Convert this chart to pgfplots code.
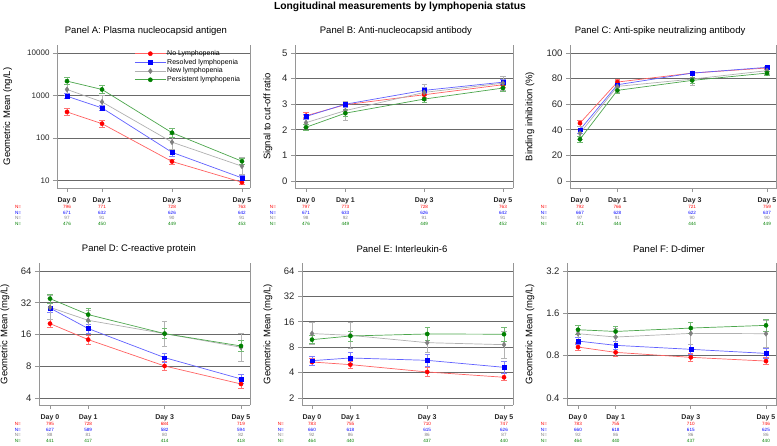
\documentclass[border=0pt]{standalone}
\usepackage{fontspec}
\setmainfont{Liberation Sans}
\usepackage{pgfplots}
\pgfplotsset{compat=1.18}
\definecolor{cR}{RGB}{255,0,0}
\definecolor{cB}{RGB}{0,0,255}
\definecolor{cG}{RGB}{128,128,128}
\definecolor{cN}{RGB}{0,128,0}
\colorlet{lR}{cR!62!white}
\colorlet{lB}{cB!62!white}
\colorlet{lG}{cG!62!white}
\colorlet{lN}{cN!70!white}
\colorlet{eR}{cR!55!white}
\colorlet{eB}{cB!50!white}
\colorlet{eG}{cG!60!white}
\colorlet{eN}{cN!55!white}
\definecolor{gridc}{RGB}{105,105,105}
\definecolor{axc}{RGB}{150,150,150}
\tikzset{nlab/.style={font=\fontsize{4.6}{5}\selectfont, inner sep=0pt, anchor=center}}
\newcommand{\Nday}[5]{%
 \node[nlab,text=cR,yshift=-18.9pt] at ({axis cs:#1,1}|-{rel axis cs:0,0}) {#2};
 \node[nlab,text=cB,yshift=-24.5pt] at ({axis cs:#1,1}|-{rel axis cs:0,0}) {#3};
 \node[nlab,text=cG,yshift=-30.2pt] at ({axis cs:#1,1}|-{rel axis cs:0,0}) {#4};
 \node[nlab,text=cN,yshift=-35.9pt] at ({axis cs:#1,1}|-{rel axis cs:0,0}) {#5};
}
\newcommand{\Nlab}[1]{%
 \node[nlab,text=cR,yshift=-18.9pt] at (rel axis cs:#1,0) {N=};
 \node[nlab,text=cB,yshift=-24.5pt] at (rel axis cs:#1,0) {N=};
 \node[nlab,text=cG,yshift=-30.2pt] at (rel axis cs:#1,0) {N=};
 \node[nlab,text=cN,yshift=-35.9pt] at (rel axis cs:#1,0) {N=};
}
\newcommand{\RightEdge}{\draw[axc, line width=0.9pt] (rel axis cs:1,0) -- (rel axis cs:1,1);}
\pgfplotsset{
 panel/.style={scale only axis, clip=false,
  axis x line*=bottom, axis y line*=left,
  axis line style={axc, line width=0.9pt},
  tick align=outside, major tick length=4pt,
  tick style={axc, line width=0.8pt},
  xminorticks=false, yminorticks=false,
  xtick={0,1,3,5}, xticklabels={Day 0,Day 1,Day 3,Day 5},
  x tick label style={font=\bfseries\fontsize{7}{8}\selectfont, text=black!85, anchor=north, yshift=-2.5pt},
  y tick label style={font=\fontsize{9.5}{11}\selectfont, text=black!85},
  /pgf/number format/assume math mode=true,
  ymajorgrids, major grid style={gridc, line width=0.8pt},
  title style={font=\fontsize{9.5}{11}\selectfont, anchor=center, yshift=8pt},
  ylabel style={font=\fontsize{9.5}{11}\selectfont, anchor=center},
 },
 sR/.style={color=lR, line width=0.7pt, mark=*, mark size=2.1pt, mark options={draw=cR, fill=cR, solid, line width=0.4pt},
   error bars/.cd, y dir=both, y explicit, error mark=|, error bar style={color=eR, line width=0.7pt}, error mark options={color=eR, mark size=2.6pt, line width=0.7pt}},
 sB/.style={color=lB, line width=0.7pt, mark=square*, mark size=1.9pt, mark options={draw=cB, fill=cB, solid, line width=0.4pt},
   error bars/.cd, y dir=both, y explicit, error mark=|, error bar style={color=eB, line width=0.7pt}, error mark options={color=eB, mark size=2.6pt, line width=0.7pt}},
 sG/.style={color=lG, line width=0.7pt, mark=diamond*, mark size=2.6pt, mark options={draw=cG, fill=cG, solid, line width=0.4pt},
   error bars/.cd, y dir=both, y explicit, error mark=|, error bar style={color=eG, line width=0.7pt}, error mark options={color=eG, mark size=2.6pt, line width=0.7pt}},
 sN/.style={color=lN, line width=0.7pt, mark=*, mark size=2.1pt, mark options={draw=cN, fill=cN, solid, line width=0.4pt},
   error bars/.cd, y dir=both, y explicit, error mark=|, error bar style={color=eN, line width=0.7pt}, error mark options={color=eN, mark size=2.6pt, line width=0.7pt}},
}
\begin{document}
\begin{tikzpicture}
\path[use as bounding box] (0pt,0pt) rectangle (777pt,445pt);
\node[font=\bfseries\fontsize{10.3}{12}\selectfont, anchor=base] at (400pt,435.8pt) {Longitudinal measurements by lymphopenia status};

% ---------------- Panel A
\begin{axis}[panel, at={(57pt,257pt)}, anchor=south west, width=193pt, height=143pt,
  xmin=-0.286, xmax=5.23, ymode=log, ymin=6.66, ymax=15420,
  ytick={10,100,1000,10000}, yticklabels={10,100,1000,10000},
  y tick label style={font=\fontsize{8}{9}\selectfont},
  title={Panel A: Plasma nucleocapsid antigen}, title style={at={(0.461,1)}},
  ylabel={Geometric Mean (ng/L)}, ylabel style={at={(-0.256,0.5)}},
  legend style={at={(0.385,0.985)}, anchor=north west, draw=none, fill=none,
    font=\fontsize{7}{8}\selectfont, nodes={inner sep=1pt, text height=5.2pt, text depth=1.5pt}},
  legend cell align=left,
  legend image code/.code={\draw[mark repeat=2,mark phase=2] plot coordinates {(0pt,0pt)(15.5pt,0pt)(31pt,0pt)};},
]
\addplot[sR] table[x=x,y=y,y error plus=ep,y error minus=em,row sep=\\]{x y ep em\\ 0 410 82 68\\ 1 217 48 39\\ 3 28 4.2 3.7\\ 5 9.1 1.1 1.0\\};
\addplot[sB] table[x=x,y=y,y error plus=ep,y error minus=em,row sep=\\]{x y ep em\\ 0 962 144 125\\ 1 509 76 66\\ 3 46 9 8\\ 5 11.5 1.7 1.5\\};
\addplot[sG] table[x=x,y=y,y error plus=ep,y error minus=em,row sep=\\]{x y ep em\\ 0 1387 485 360\\ 1 706 282 202\\ 3 80 40 27\\ 5 21.7 13 8.1\\};
\addplot[sN] table[x=x,y=y,y error plus=ep,y error minus=em,row sep=\\]{x y ep em\\ 0 2178 480 393\\ 1 1387 347 277\\ 3 133 37 29\\ 5 28.4 5.7 4.7\\};
\legend{No Lymphopenia,Resolved lymphopenia,New lymphopenia,Persistent lymphopenia}
\RightEdge
\Nlab{-0.202}
\Nday{0}{796}{671}{97}{476}
\Nday{1}{771}{632}{91}{450}
\Nday{3}{728}{626}{90}{449}
\Nday{5}{763}{642}{91}{453}
\end{axis}

% ---------------- Panel B
\begin{axis}[panel, at={(295pt,257pt)}, anchor=south west, width=218pt, height=143pt,
  xmin=-0.279, xmax=5.254, ymin=-0.27, ymax=5.31,
  ytick={0,1,2,3,4,5},
  title={Panel B: Anti-nucleocapsid antibody}, title style={at={(0.463,1)}},
  ylabel={Signal to cut-off ratio}, ylabel style={at={(-0.124,0.5)}},
]
\addplot[sR] table[x=x,y=y,y error plus=ep,y error minus=em,row sep=\\]{x y ep em\\ 0 2.55 0.12 0.12\\ 1 2.98 0.12 0.12\\ 3 3.37 0.12 0.12\\ 5 3.76 0.10 0.10\\};
\addplot[sB] table[x=x,y=y,y error plus=ep,y error minus=em,row sep=\\]{x y ep em\\ 0 2.52 0.10 0.10\\ 1 3.00 0.12 0.12\\ 3 3.54 0.12 0.12\\ 5 3.86 0.10 0.10\\};
\addplot[sG] table[x=x,y=y,y error plus=ep,y error minus=em,row sep=\\]{x y ep em\\ 0 2.28 0.20 0.20\\ 1 2.75 0.38 0.38\\ 3 3.46 0.32 0.32\\ 5 3.82 0.28 0.28\\};
\addplot[sN] table[x=x,y=y,y error plus=ep,y error minus=em,row sep=\\]{x y ep em\\ 0 2.10 0.12 0.12\\ 1 2.65 0.13 0.13\\ 3 3.20 0.13 0.13\\ 5 3.63 0.12 0.12\\};
\RightEdge
\Nlab{-0.101}
\Nday{0}{797}{671}{98}{476}
\Nday{1}{773}{633}{92}{449}
\Nday{3}{728}{626}{91}{449}
\Nday{5}{763}{642}{91}{452}
\end{axis}

% ---------------- Panel C
\begin{axis}[panel, at={(570pt,257pt)}, anchor=south west, width=206.5pt, height=143pt,
  xmin=-0.267, xmax=5.254, ymin=-5.5, ymax=106.25,
  ytick={0,20,40,60,80,100},
  title={Panel C: Anti-spike neutralizing antibody}, title style={at={(0.436,1)}},
  ylabel={Binding inhibition (\%)}, ylabel style={at={(-0.194,0.5)}},
]
\addplot[sR] table[x=x,y=y,y error plus=ep,y error minus=em,row sep=\\]{x y ep em\\ 0 45.2 2.5 2.5\\ 1 77.3 2 2\\ 3 84.3 1.5 1.5\\ 5 88.3 1 1\\};
\addplot[sB] table[x=x,y=y,y error plus=ep,y error minus=em,row sep=\\]{x y ep em\\ 0 40.0 2.5 2.5\\ 1 75.2 2 2\\ 3 84.3 1.5 1.5\\ 5 88.8 1 1\\};
\addplot[sG] table[x=x,y=y,y error plus=ep,y error minus=em,row sep=\\]{x y ep em\\ 0 37.3 5 5\\ 1 73.9 5 5\\ 3 79.6 5 5\\ 5 86.2 3 3\\};
\addplot[sN] table[x=x,y=y,y error plus=ep,y error minus=em,row sep=\\]{x y ep em\\ 0 32.6 2.5 2.5\\ 1 70.8 2.5 2.5\\ 3 78.6 2 2\\ 5 84.3 1.5 1.5\\};
\RightEdge
\Nlab{-0.126}
\Nday{0}{792}{667}{97}{471}
\Nday{1}{766}{628}{91}{444}
\Nday{3}{721}{622}{90}{444}
\Nday{5}{759}{637}{90}{449}
\end{axis}

% ---------------- Panel D
\begin{axis}[panel, at={(39pt,40pt)}, anchor=south west, width=211pt, height=142pt,
  xmin=-0.288, xmax=5.236, ymode=log, ymin=3.43, ymax=76.2,
  ytick={4,8,16,32,64}, yticklabels={4,8,16,32,64},
  title={Panel D: C-reactive protein}, title style={at={(0.474,1)}},
  ylabel={Geometric Mean (mg/L)}, ylabel style={at={(-0.161,0.5)}},
]
\addplot[sR] table[x=x,y=y,y error plus=ep,y error minus=em,row sep=\\]{x y ep em\\ 0 20.3 2.0 1.8\\ 1 14.3 1.4 1.3\\ 3 8.04 0.8 0.73\\ 5 5.43 0.54 0.49\\};
\addplot[sB] table[x=x,y=y,y error plus=ep,y error minus=em,row sep=\\]{x y ep em\\ 0 28.5 2.9 2.6\\ 1 18.2 1.8 1.65\\ 3 9.65 1.0 0.9\\ 5 6.06 0.6 0.55\\};
\addplot[sG] table[x=x,y=y,y error plus=ep,y error minus=em,row sep=\\]{x y ep em\\ 0 28.9 8.7 6.7\\ 1 21.8 5.5 4.4\\ 3 16.3 5.1 3.9\\ 5 12.1 4.4 3.2\\};
\addplot[sN] table[x=x,y=y,y error plus=ep,y error minus=em,row sep=\\]{x y ep em\\ 0 35.0 3.5 3.2\\ 1 24.7 3.7 3.2\\ 3 16.3 2.0 1.75\\ 5 12.45 1.5 1.3\\};
\RightEdge
\Nlab{-0.100}
\Nday{0}{795}{627}{88}{441}
\Nday{1}{728}{589}{81}{417}
\Nday{3}{684}{582}{80}{414}
\Nday{5}{719}{594}{82}{418}
\end{axis}

% ---------------- Panel E
\begin{axis}[panel, at={(302pt,40pt)}, anchor=south west, width=211pt, height=142pt,
  xmin=-0.26, xmax=5.234, ymode=log, ymin=1.652, ymax=79.6,
  ytick={2,4,8,16,32,64}, yticklabels={2,4,8,16,32,64},
  title={Panel E: Interleukin-6}, title style={at={(0.474,1)}},
  ylabel={Geometric Mean (mg/L)}, ylabel style={at={(-0.161,0.5)}},
]
\addplot[sR] table[x=x,y=y,y error plus=ep,y error minus=em,row sep=\\]{x y ep em\\ 0 5.34 0.53 0.49\\ 1 4.97 0.5 0.45\\ 3 4.07 0.49 0.44\\ 5 3.52 0.35 0.32\\};
\addplot[sB] table[x=x,y=y,y error plus=ep,y error minus=em,row sep=\\]{x y ep em\\ 0 5.54 0.66 0.6\\ 1 5.96 0.9 0.78\\ 3 5.59 1.0 0.85\\ 5 4.62 0.83 0.7\\};
\addplot[sG] table[x=x,y=y,y error plus=ep,y error minus=em,row sep=\\]{x y ep em\\ 0 11.6 4.1 3.0\\ 1 11.06 4.8 3.4\\ 3 9.05 2.7 2.1\\ 5 8.57 3.8 2.6\\};
\addplot[sN] table[x=x,y=y,y error plus=ep,y error minus=em,row sep=\\]{x y ep em\\ 0 9.83 1.2 1.05\\ 1 10.86 1.6 1.4\\ 3 11.47 2.1 1.75\\ 5 11.4 2.3 1.9\\};
\RightEdge
\Nlab{-0.100}
\Nday{0}{783}{660}{92}{464}
\Nday{1}{755}{618}{86}{440}
\Nday{3}{710}{615}{86}{437}
\Nday{5}{747}{626}{87}{440}
\end{axis}

% ---------------- Panel F
\begin{axis}[panel, at={(567pt,40pt)}, anchor=south west, width=209.5pt, height=142pt,
  xmin=-0.293, xmax=5.279, ymode=log, ymin=0.357, ymax=3.65,
  ytick={0.4,0.8,1.6,3.2}, yticklabels={0.4,0.8,1.6,3.2},
  title={Panel F: D-dimer}, title style={at={(0.487,1)}},
  ylabel={Geometric Mean (mg/L)}, ylabel style={at={(-0.177,0.5)}},
]
\addplot[sR] table[x=x,y=y,y error plus=ep,y error minus=em,row sep=\\]{x y ep em\\ 0 0.922 0.055 0.052\\ 1 0.845 0.05 0.047\\ 3 0.779 0.055 0.05\\ 5 0.733 0.044 0.042\\};
\addplot[sB] table[x=x,y=y,y error plus=ep,y error minus=em,row sep=\\]{x y ep em\\ 0 1.017 0.06 0.057\\ 1 0.948 0.066 0.062\\ 3 0.888 0.07 0.066\\ 5 0.831 0.066 0.06\\};
\addplot[sG] table[x=x,y=y,y error plus=ep,y error minus=em,row sep=\\]{x y ep em\\ 0 1.147 0.17 0.15\\ 1 1.086 0.16 0.14\\ 3 1.153 0.23 0.19\\ 5 1.147 0.29 0.23\\};
\addplot[sN] table[x=x,y=y,y error plus=ep,y error minus=em,row sep=\\]{x y ep em\\ 0 1.224 0.10 0.09\\ 1 1.19 0.11 0.10\\ 3 1.258 0.13 0.11\\ 5 1.315 0.13 0.12\\};
\RightEdge
\Nlab{-0.110}
\Nday{0}{783}{660}{92}{464}
\Nday{1}{755}{618}{86}{440}
\Nday{3}{710}{615}{86}{437}
\Nday{5}{746}{625}{86}{440}
\end{axis}
\end{tikzpicture}
\end{document}
